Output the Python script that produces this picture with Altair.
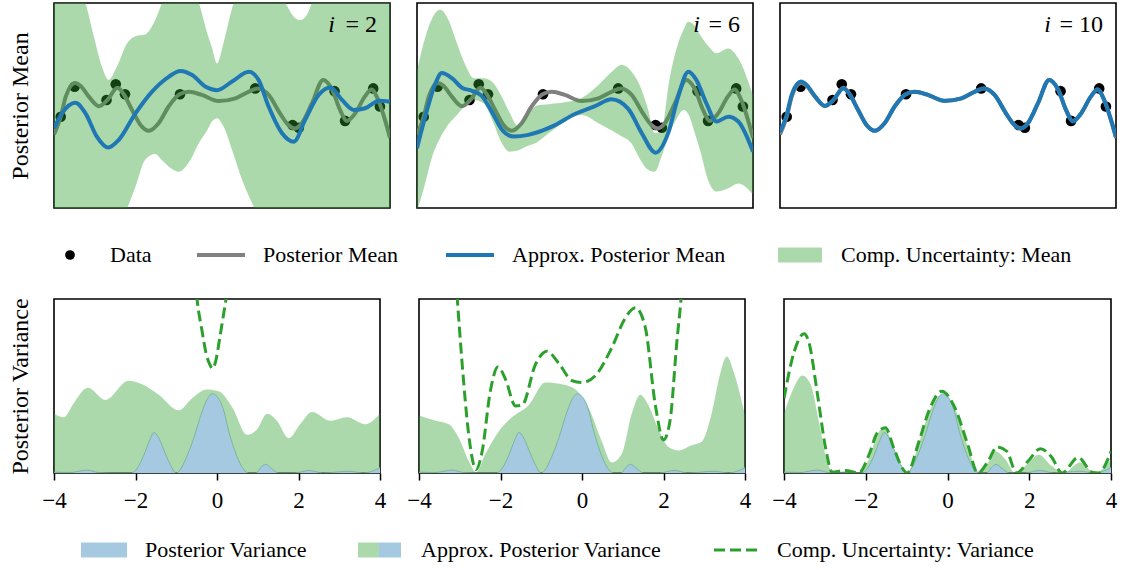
import altair as alt
import pandas as pd

FONT = "Liberation Serif"

iterations = [2, 6, 10]
x_ticks = [-4, -2, 0, 2, 4]

# observations
obs_x = [-3.84, -3.51, -2.75, -2.53, -2.31, -1.00, 0.79, 1.68, 1.83, 2.68, 2.93, 3.60, 3.76]
obs_y = [-0.33, 0.55, 0.16, 0.62, 0.33, 0.33, 0.50, -0.57, -0.65, 0.42, -0.45, 0.50, -0.03]

# exact posterior mean
mean_x = [-4.0, -3.84, -3.72, -3.5, -3.37, -3.17, -2.93, -2.73, -2.49, -2.34, -2.14, -1.94, -1.74,
          -1.51, -1.27, -1.01, -0.79, -0.48, -0.08, 0.32, 0.63, 0.86, 1.11, 1.38, 1.58, 1.74, 1.90,
          2.14, 2.41, 2.61, 2.81, 2.97, 3.17, 3.40, 3.56, 3.72, 3.88, 4.0]
mean_y = [-0.85, -0.33, 0.26, 0.66, 0.58, 0.26, -0.02, 0.16, 0.52, 0.33, -0.13, -0.57, -0.74,
          -0.52, -0.03, 0.33, 0.40, 0.31, 0.13, 0.21, 0.40, 0.50, 0.31, -0.23, -0.57, -0.67, -0.52,
          0.06, 0.75, 0.50, -0.13, -0.45, -0.23, 0.26, 0.47, 0.16, -0.42, -0.95]

# approximate posterior mean after i iterations
approx2_x = [-4.0, -3.81, -3.49, -3.25, -2.98, -2.71, -2.46, -2.06, -1.67, -1.27, -0.99, -0.71, -0.39,
             -0.12, 0.24, 0.64, 0.87, 1.11, 1.43, 1.71, 1.98, 2.30, 2.58, 2.86, 3.14, 3.41, 3.74, 4.0]
approx2_y = [-0.67, -0.23, 0.08, -0.23, -0.91, -1.23, -1.01, -0.23, 0.40, 0.84, 1.01, 0.89, 0.55,
             0.45, 0.70, 0.99, 0.75, -0.03, -0.81, -1.06, -0.42, 0.31, 0.53, 0.16, -0.13, -0.08, 0.14, 0.11]

approx6_x = [-4.0, -3.76, -3.56, -3.41, -3.17, -2.93, -2.69, -2.46, -2.22, -1.98, -1.70, -1.35, -0.79,
             -0.24, 0.24, 0.63, 1.03, 1.35, 1.68, 1.98, 2.22, 2.46, 2.65, 2.89, 3.13, 3.41, 3.65, 4.0]
approx6_y = [-1.25, -0.13, 0.65, 0.95, 0.80, 0.52, 0.43, 0.28, -0.18, -0.70, -0.91, -0.86, -0.62,
             -0.25, -0.02, 0.18, -0.10, -0.81, -1.38, -0.81, 0.26, 0.99, 0.75, 0.06, -0.47, -0.33, -0.47, -1.35]

approx10_x = [-4.0, -3.84, -3.72, -3.5, -3.37, -3.17, -2.93, -2.73, -2.49, -2.34, -2.14, -1.94, -1.74,
              -1.51, -1.27, -1.01, -0.79, -0.48, -0.08, 0.32, 0.63, 0.86, 1.11, 1.38, 1.58, 1.74, 1.90,
              2.14, 2.41, 2.61, 2.81, 2.97, 3.17, 3.40, 3.56, 3.72, 3.88, 4.0]
approx10_y = [-0.78, -0.27, 0.32, 0.70, 0.61, 0.28, -0.01, 0.16, 0.50, 0.32, -0.13, -0.57, -0.74,
              -0.52, -0.03, 0.32, 0.40, 0.31, 0.14, 0.21, 0.40, 0.50, 0.31, -0.23, -0.57, -0.67, -0.52,
              0.06, 0.75, 0.50, -0.13, -0.47, -0.23, 0.26, 0.47, 0.16, -0.42, -0.92]

# computational uncertainty band around the approximate mean
band2_x = [-4.0, -3.5, -3.25, -3.05, -2.86, -2.7, -2.5, -2.26, -2.06, -1.83, -1.59, -1.43, -1.2,
           -1.03, -0.75, -0.55, -0.35, -0.24, -0.12, 0.04, 0.24, 0.48, 0.79, 1.1, 1.5, 1.71, 1.86,
           2.02, 2.14, 2.5, 3.0, 3.5, 4.0]
band2_hi = [4.5, 3.8, 3.0, 2.01, 1.14, 0.75, 1.14, 1.82, 2.03, 2.08, 2.5, 3.0, 3.6,
            3.8, 3.6, 3.0, 2.11, 1.7, 1.23, 1.85, 2.85, 3.6, 4.0, 3.8, 3.02, 2.6, 2.5,
            2.65, 3.0, 3.8, 4.2, 4.3, 4.3]
band2_lo = [-4.3, -4.2, -4.0, -3.9, -3.8, -3.7, -3.5, -3.0, -2.38, -1.59, -1.42, -1.6, -1.85,
            -1.94, -1.59, -1.1, -0.72, -0.47, -0.37, -0.62, -1.30, -2.18, -3.04, -3.7, -4.0, -4.1, -4.2,
            -4.2, -4.2, -4.2, -4.2, -4.2, -4.2]

band6_x = [-4.0, -3.8, -3.64, -3.45, -3.25, -3.05, -2.85, -2.65, -2.41, -2.2, -2.0, -1.8, -1.6,
           -1.4, -1.15, -0.85, -0.45, -0.08, 0.32, 0.65, 0.87, 1.1, 1.3, 1.5, 1.66, 1.82, 2.0,
           2.2, 2.34, 2.46, 2.6, 2.75, 2.93, 3.13, 3.41, 3.65, 4.0]
band6_hi = [1.0, 2.01, 2.55, 2.80, 2.50, 1.82, 1.19, 0.80, 0.80, 0.68, 0.30, -0.20, -0.60,
            -0.35, 0.0, 0.04, 0.10, 0.22, 0.60, 1.0, 1.19, 1.0, 0.6, -0.1, -0.8, -0.75, 0.68,
            1.75, 2.2, 2.45, 2.35, 2.05, 1.75, 1.53, 1.67, 1.38, 0.3]
band6_lo = [-3.1, -2.25, -1.5, -0.95, -0.55, -0.28, 0.01, 0.16, 0.06, -0.45, -1.05, -1.35, -1.32,
            -1.2, -1.08, -0.8, -0.45, -0.28, -0.52, -0.74, -0.9, -1.1, -1.55, -1.88, -1.94, -1.5, -0.85,
            -0.35, -0.13, -0.25, -0.75, -1.35, -2.18, -2.52, -2.42, -2.28, -2.6]

# exact posterior variance
pvar_x = [-4.0, -3.6, -3.18, -2.9, -2.58, -2.1, -1.95, -1.8, -1.65, -1.55, -1.45, -1.3, -1.15,
          -1.0, -0.9, -0.75, -0.6, -0.53, -0.4, -0.25, -0.12, 0.0, 0.15, 0.30, 0.45, 0.6, 0.78,
          0.96, 1.07, 1.19, 1.32, 1.51, 1.9, 2.26, 2.6, 3.24, 3.6, 4.0]
pvar_y = [0.005, 0.003, 0.017, 0.002, 0.0, 0.0, 0.03, 0.10, 0.19, 0.233, 0.21, 0.13, 0.05,
          0.0, 0.02, 0.09, 0.18, 0.23, 0.33, 0.42, 0.455, 0.44, 0.37, 0.23, 0.12, 0.04, 0.0,
          0.0, 0.03, 0.05, 0.03, 0.0, 0.0, 0.015, 0.0, 0.01, 0.0, 0.03]

# approximate posterior variance after i iterations
avar2_x = [-4.0, -3.76, -3.52, -3.17, -2.74, -2.17, -1.84, -1.43, -0.94, -0.61, -0.25, 0.04, 0.37,
           0.74, 0.98, 1.23, 1.47, 1.76, 2.04, 2.33, 2.78, 3.19, 3.64, 4.0]
avar2_y = [0.34, 0.32, 0.40, 0.49, 0.42, 0.53, 0.51, 0.45, 0.36, 0.43, 0.48, 0.47, 0.38,
           0.22, 0.25, 0.34, 0.30, 0.20, 0.28, 0.35, 0.30, 0.32, 0.28, 0.34]

avar6_x = [-4.0, -3.59, -3.27, -3.02, -2.78, -2.60, -2.37, -2.04, -1.72, -1.31, -0.90, -0.49, -0.16,
           0.16, 0.49, 0.73, 0.98, 1.22, 1.43, 1.63, 1.88, 2.12, 2.37, 2.69, 2.94, 3.18, 3.39, 3.55,
           3.75, 4.0]
avar6_y = [0.33, 0.30, 0.28, 0.20, 0.07, 0.005, 0.11, 0.24, 0.32, 0.39, 0.52, 0.51, 0.48,
           0.375, 0.18, 0.06, 0.11, 0.34, 0.45, 0.39, 0.25, 0.15, 0.13, 0.16, 0.18, 0.34, 0.57, 0.67,
           0.56, 0.33]

avar10_x = [-4.0, -3.76, -3.55, -3.35, -3.15, -2.94, -2.78, -2.50, -2.17, -1.92, -1.72, -1.56, -1.40,
            -1.19, -0.99, -0.70, -0.45, -0.14, 0.18, 0.50, 0.74, 0.92, 1.17, 1.41, 1.65, 1.90, 2.23,
            2.55, 2.84, 3.24, 3.61, 4.0]
avar10_y = [0.34, 0.49, 0.56, 0.51, 0.30, 0.06, 0.005, 0.01, 0.0, 0.08, 0.22, 0.26, 0.20,
            0.06, 0.0, 0.17, 0.35, 0.45, 0.37, 0.15, 0.01, 0.03, 0.125, 0.08, 0.0, 0.04, 0.105,
            0.04, 0.0, 0.06, 0.0, 0.08]

# computational uncertainty of the variance
cvar2_x = [-0.6, -0.49, -0.37, -0.27, -0.17, -0.11, -0.03, 0.07, 0.16, 0.22, 0.32]
cvar2_y = [1.3, 1.0, 0.82, 0.69, 0.62, 0.60, 0.645, 0.78, 0.91, 1.0, 1.3]

cvar6_x = [-3.15, -3.06, -2.94, -2.78, -2.60, -2.45, -2.25, -2.06, -1.88, -1.63, -1.47, -1.14, -0.86,
           -0.57, -0.24, 0.0, 0.33, 0.73, 1.06, 1.31, 1.55, 1.80, 2.00, 2.16, 2.33, 2.43, 2.52]
cvar6_y = [1.3, 1.0, 0.625, 0.22, 0.02, 0.125, 0.47, 0.61, 0.54, 0.385, 0.39, 0.625, 0.70,
           0.63, 0.53, 0.52, 0.56, 0.72, 0.89, 0.95, 0.84, 0.39, 0.19, 0.30, 0.76, 1.0, 1.3]

cvar10_x = [-4.0, -3.76, -3.51, -3.39, -3.18, -2.98, -2.82, -2.50, -2.17, -1.92, -1.72, -1.52, -1.31,
            -1.11, -0.99, -0.70, -0.45, -0.14, 0.18, 0.50, 0.74, 1.00, 1.21, 1.45, 1.69, 1.98, 2.27,
            2.55, 2.80, 3.20, 3.53, 3.69, 4.0]
cvar10_y = [0.43, 0.69, 0.80, 0.75, 0.45, 0.14, 0.005, 0.015, 0.0, 0.105, 0.23, 0.26, 0.14,
            0.03, 0.0, 0.18, 0.36, 0.47, 0.375, 0.16, 0.0, 0.07, 0.15, 0.125, 0.0, 0.07, 0.14,
            0.09, 0.0, 0.09, 0.005, 0.0, 0.125]

GREEN = "#2ca02c"
BLUE = "#1f77b4"
GRAY = "#808080"
LIGHT_BLUE = "#a5c9e1"

XS = alt.Scale(domain=[-4, 4], nice=False, zero=False)
YS_TOP = alt.Scale(domain=[-3, 3], nice=False, zero=False)
YS_BOT = alt.Scale(domain=[0, 1], nice=False, zero=False)

TOP_W, TOP_H = 336, 205
BOT_W, BOT_H = 326, 174


def y_axis(title):
    return alt.Axis(title=title, labels=False, ticks=False, domain=False, grid=False,
                    titleFont=FONT, titleFontSize=24, titleFontWeight="normal",
                    titleColor="black", titlePadding=27, titleBaseline="alphabetic")


def x_axis_bottom():
    return alt.Axis(values=x_ticks, title=None, grid=False, domain=False,
                    ticks=True, tickSize=7, tickWidth=1.5, tickColor="black",
                    labelFont=FONT, labelFontSize=23, labelColor="black",
                    labelPadding=9, labelFlush=False)


def xy(yscale, xax, yax, yfield="y"):
    return dict(x=alt.X("x:Q", scale=XS, axis=xax),
                y=alt.Y(f"{yfield}:Q", scale=yscale, axis=yax))


def top_panel(i, ax_, ay_, band, ytitle, i_right):
    yax = y_axis(ytitle) if ytitle else None
    obs = pd.DataFrame({"x": obs_x, "y": obs_y})
    mean = pd.DataFrame({"x": mean_x, "y": mean_y})
    approx = pd.DataFrame({"x": ax_, "y": ay_})
    layers = [
        alt.Chart(obs).mark_circle(size=113, color="black", opacity=1).encode(
            **xy(YS_TOP, None, yax)),
        alt.Chart(mean).mark_line(color=GRAY, strokeWidth=4, interpolate="monotone", clip=True).encode(
            **xy(YS_TOP, None, yax)),
    ]
    if band is not None:
        bx, blo, bhi = band
        bdf = pd.DataFrame({"x": bx, "lo": blo, "hi": bhi})
        layers.append(
            alt.Chart(bdf).mark_area(color=GREEN, opacity=0.4, interpolate="monotone", clip=True).encode(
                **xy(YS_TOP, None, yax, "lo"), y2=alt.Y2("hi:Q")))
    layers.append(
        alt.Chart(approx).mark_line(color=BLUE, strokeWidth=4, interpolate="monotone", clip=True).encode(
            **xy(YS_TOP, None, yax)))
    lab = pd.DataFrame({"sym": ["i"], "eq": [f"= {i}"]})
    layers.append(
        alt.Chart(lab).mark_text(font=FONT, fontSize=24, fontStyle="italic", align="right",
                                 baseline="alphabetic", color="black").encode(
            text="sym:N", x=alt.value(i_right), y=alt.value(29)))
    layers.append(
        alt.Chart(lab).mark_text(font=FONT, fontSize=24, align="right",
                                 baseline="alphabetic", color="black").encode(
            text="eq:N", x=alt.value(TOP_W - 13), y=alt.value(29)))
    return alt.layer(*layers).properties(
        width=TOP_W, height=TOP_H,
        view=alt.ViewBackground(stroke="black", strokeWidth=1.6))


def bottom_panel(avx, avy, cvx, cvy, ytitle, w):
    yax = y_axis(ytitle) if ytitle else None
    xax = x_axis_bottom()
    av = pd.DataFrame({"x": avx, "y": avy})
    pv = pd.DataFrame({"x": pvar_x, "y": pvar_y})
    cv = pd.DataFrame({"x": cvx, "y": cvy})
    layers = [
        alt.Chart(av).mark_area(color=GREEN, opacity=0.4, interpolate="monotone", clip=True).encode(
            **xy(YS_BOT, xax, yax)),
        alt.Chart(pv).mark_area(color=LIGHT_BLUE, opacity=1, interpolate="monotone", clip=True).encode(
            **xy(YS_BOT, xax, yax)),
        alt.Chart(pv).mark_line(color="#78b79b", strokeWidth=1, interpolate="monotone", clip=True).encode(
            **xy(YS_BOT, xax, yax)),
        alt.Chart(cv).mark_line(color=GREEN, strokeWidth=3, strokeDash=[11, 5],
                                interpolate="monotone", clip=True).encode(
            **xy(YS_BOT, xax, yax)),
    ]
    return alt.layer(*layers).properties(
        width=w, height=BOT_H,
        view=alt.ViewBackground(stroke="black", strokeWidth=1.6))


top_row = alt.hconcat(
    top_panel(iterations[0], approx2_x, approx2_y, (band2_x, band2_lo, band2_hi), "Posterior Mean", 281),
    top_panel(iterations[1], approx6_x, approx6_y, (band6_x, band6_lo, band6_hi), None, 283),
    top_panel(iterations[2], approx10_x, approx10_y, None, None, 271),
    spacing=27, bounds="flush",
)

bottom_row = alt.hconcat(
    bottom_panel(avar2_x, avar2_y, cvar2_x, cvar2_y, "Posterior Variance", BOT_W),
    bottom_panel(avar6_x, avar6_y, cvar6_x, cvar6_y, None, BOT_W),
    bottom_panel(avar10_x, avar10_y, cvar10_x, cvar10_y, None, BOT_W + 1),
    spacing=39, bounds="flush",
)

# legend rows share their left edge with the first plot column (52 px from the page edge)
ORIGIN = 52
LEG_W = 1062
one = pd.DataFrame({"k": [0]})


def legend_text(labels, xs, yc):
    df = pd.DataFrame({"label": labels, "px": [v - ORIGIN for v in xs]})
    return alt.Chart(df).mark_text(font=FONT, fontSize=22, align="left", baseline="middle",
                                   color="black").encode(
        x=alt.X("px:Q", scale=None), y=alt.value(yc), text="label:N")


def swatch_line(x0, x1, yc, color, width, dash=None):
    kw = dict(color=color, strokeWidth=width)
    if dash:
        kw["strokeDash"] = dash
    return alt.Chart(one).mark_rule(**kw).encode(
        x=alt.value(x0 - ORIGIN), x2=alt.value(x1 - ORIGIN), y=alt.value(yc))


def swatch_rect(x0, x1, yc, color, opacity):
    return alt.Chart(one).mark_rect(color=color, opacity=opacity).encode(
        x=alt.value(x0 - ORIGIN), x2=alt.value(x1 - ORIGIN),
        y=alt.value(yc - 7.5), y2=alt.value(yc + 7.5))


top_labels = ["Data", "Posterior Mean", "Approx. Posterior Mean", "Comp. Uncertainty: Mean"]
YC1 = 45
legend_top = alt.layer(
    alt.Chart(one).mark_circle(size=95, color="black", opacity=1).encode(
        x=alt.value(68 - ORIGIN), y=alt.value(YC1)),
    swatch_line(195, 243, YC1, GRAY, 4),
    swatch_line(444, 492, YC1, BLUE, 4),
    swatch_rect(776, 820, YC1, GREEN, 0.4),
    legend_text(top_labels, [108, 261, 510, 839], YC1),
).properties(width=LEG_W, height=85, view=alt.ViewBackground(stroke="transparent"))

bottom_labels = ["Posterior Variance", "Approx. Posterior Variance", "Comp. Uncertainty: Variance"]
YC2 = 36
legend_bottom = alt.layer(
    swatch_rect(79, 125, YC2, LIGHT_BLUE, 1),
    swatch_rect(356, 377, YC2, GREEN, 0.4),
    swatch_rect(377, 399, YC2, LIGHT_BLUE, 1),
    swatch_line(712, 755, YC2, GREEN, 3, [11, 5]),
    legend_text(bottom_labels, [143, 419, 775], YC2),
).properties(width=LEG_W, height=52, view=alt.ViewBackground(stroke="transparent"))

chart = alt.vconcat(
    top_row, legend_top, bottom_row, legend_bottom, spacing=0,
).properties(
    padding={"left": 7, "top": 2, "right": 0, "bottom": 0},
).configure_view(stroke="transparent")

chart.save("out.html", embed_options={"renderer": "svg", "actions": False})
